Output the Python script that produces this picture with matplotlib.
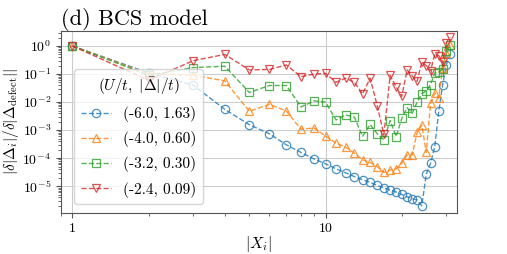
import numpy as np
import matplotlib.pyplot as plt
from matplotlib.ticker import NullFormatter

plt.rcParams['font.family'] = 'serif'
plt.rcParams['font.serif'] = ['cmr10']
plt.rcParams['mathtext.fontset'] = 'cm'
plt.rcParams['axes.unicode_minus'] = False
plt.rcParams['axes.formatter.use_mathtext'] = True

X = np.arange(1, 32)

# (U/t, |Delta|/t) labels
labels = ["(-6.0, 1.63)", "(-4.0, 0.60)", "(-3.2, 0.30)", "(-2.4, 0.09)"]

blue = [1.0, 0.11, 0.04, 5.5e-3, 1.56e-3, 7.4e-4, 3.0e-4, 1.6e-4, 9.4e-5, 6.3e-5,
        4.2e-5, 3.0e-5, 2.2e-5, 1.7e-5, 1.37e-5, 1.07e-5, 8.7e-6, 7.3e-6, 6.2e-6, 5.1e-6,
        4.2e-6, 3.6e-6, 3.2e-6, 2.0e-6, 2.7e-5, 6.6e-5, 2.5e-4, 4.7e-3, 0.04, 0.21, 0.52]
orange = [1.0, 0.1, 0.091, 0.057, 4.7e-3, 8.3e-3, 4.8e-3, 1.07e-3, 1.2e-3, 6.1e-4,
          3.4e-4, 2.5e-4, 1.5e-4, 8.7e-5, 7.1e-5, 5.0e-5, 3.1e-5, 3.8e-5, 4.1e-5, 6.6e-5,
          1.3e-4, 1.3e-4, 8.5e-4, 1.5e-3, 1.6e-4, 9.1e-3, 0.021, 0.014, 0.16, 0.56, 1.1]
green = [1.0, 0.09, 0.17, 0.19, 0.022, 0.039, 0.039, 6.7e-3, 0.011, 0.01,
         2.3e-3, 3.5e-3, 2.9e-3, 6.0e-4, 1.6e-3, 7.4e-4, 4.5e-4, 2.2e-3, 5.9e-4, 2.6e-3,
         6.3e-3, 4.0e-3, 0.01, 0.02, 0.025, 0.042, 0.11, 0.12, 0.15, 0.66, 1.1]
red = [1.0, 0.06, 0.3, 0.5, 0.14, 0.146, 0.21, 0.08, 0.1, 0.105,
       0.051, 0.071, 0.051, 0.0195, 0.071, 0.0075, 7.0e-4, 0.089, 0.035, 0.016,
       0.14, 0.085, 0.055, 0.26, 0.2, 0.13, 0.52, 0.45, 0.26, 1.3, 2.1]

series = [blue, orange, green, red]
colors = ['tab:blue', 'tab:orange', 'tab:green', 'tab:red']
markers = ['o', '^', 's', 'v']

fig = plt.figure(figsize=(5.07, 2.54), dpi=100)
ax = fig.add_axes([0.120, 0.161, 0.781, 0.718])

for y, c, m, lab in zip(series, colors, markers, labels):
    ax.plot(X, y, ls='--', lw=1.0, color=c, marker=m, ms=6, mfc='none',
            mew=0.9, alpha=0.8, label=lab)

ax.set_xscale('log')
ax.set_yscale('log')
ax.set_xlim(0.9, 33)
ax.set_ylim(1.1e-6, 3.5)
ax.set_xticks([1, 10], ['1', '10'])
ax.xaxis.set_minor_formatter(NullFormatter())
ax.set_yticks([1e0, 1e-1, 1e-2, 1e-3, 1e-4, 1e-5])
ax.grid(True, which='major', color='#cccccc', lw=0.8)
for s in ax.spines.values():
    s.set_color('#555555')
ax.tick_params(which='both', direction='out', colors='#555555', labelcolor='black', labelsize=10)

ax.set_xlabel(r'$|X_i|$', fontsize=11.5, labelpad=-1)
ax.set_ylabel(r'$|\delta|\Delta_i|/\delta|\Delta_{\rm defect}||$', fontsize=11, labelpad=1)
ax.set_title('(d) BCS model', loc='left', fontsize=16, pad=3)

leg = ax.legend(title=r'$(U/t,\ |\bar{\Delta}|/t)$', loc='lower left', fontsize=11,
                title_fontsize=11, labelspacing=0.6, bbox_to_anchor=(0.015, 0.01))

fig.savefig('out.png', dpi=100)
